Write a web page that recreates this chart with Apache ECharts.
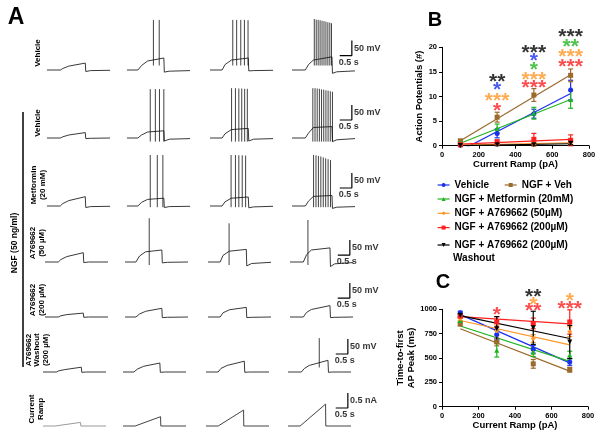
<!DOCTYPE html>
<html>
<head>
<meta charset="utf-8">
<script src="https://cdn.jsdelivr.net/npm/echarts@6/dist/echarts.min.js"></script>
<style>
  html, body { margin: 0; padding: 0; background: #fff; }
  #chart { width: 600px; height: 439px; }
</style>
</head>
<body>
<div id="chart"></div>
<script>
// ---------- Panel A: sweep key points (time in s, membrane potential in mV) ----------
// times of the key points for each column (current step size grows left to right)
const COL_TIMES = [
  [0, 0.55, 0.65, 0.9, 1.58, 1.6, 1.8, 2.6],
  [0, 0.45, 0.6, 0.85, 1.52, 1.54, 1.75, 2.6],
  [0, 0.5, 0.62, 0.88, 1.58, 1.6, 1.8, 2.6],
  [0, 0.55, 0.68, 0.88, 1.65, 1.67, 1.85, 2.6]
]

const vehicleV = [
  [-60, -60, -55, -47, -37, -65, -62, -61],
  [-60, -60, -45, -30, -20, -67, -64, -62],
  [-60, -60, -42, -27, -20, -63, -62, -61],
  [-60, -60, -42, -27, -16, -71, -66, -63]
]
const ngfVehV = [
  [-60, -60, -56, -50, -42, -62, -61, -60],
  [-60, -60, -50, -40, -36, -70, -64, -62],
  [-60, -60, -46, -32, -28, -70, -64, -62],
  [-60, -60, -44, -25, -22, -72, -66, -62]
]
const metforminV = [
  [-60, -60, -52, -42, -29, -65, -62, -61],
  [-60, -60, -48, -38, -34, -65, -62, -61],
  [-60, -60, -46, -34, -30, -66, -63, -61],
  [-60, -60, -44, -28, -25, -68, -64, -62]
]
const a50V = [
  [-60, -60, -52, -42, -29, -62, -60, -60],
  [-60, -60, -40, -26, -20, -63, -61, -60],
  [-60, -60, -38, -24, -18, -73, -65, -61],
  [-60, -60, -36, -20, -13, -75, -66, -62]
]
const a200V = [
  [-60, -60, -56, -52, -47, -61, -60, -60],
  [-60, -60, -50, -41, -31, -62, -61, -60],
  [-60, -60, -46, -36, -28, -62, -61, -60],
  [-60, -60, -45, -35, -22, -62, -61, -60]
]
const washoutV = [
  [-60, -60, -56, -52, -44, -61, -60, -60],
  [-60, -60, -50, -41, -30, -61, -60, -60],
  [-60, -60, -48, -38, -24, -61, -60, -60],
  [-60, -60, -48, -38, -21, -61, -60, -60]
]

// action potentials: [time s, peak mV]
const vehicleSpikes = [
  [],
  [[1.09, 107], [1.33, 107]],
  [[0.94, 107], [1.1, 107], [1.27, 107], [1.42, 107], [1.57, 106]],
  [[0.92, 110], [1.0, 108], [1.08, 107], [1.16, 106], [1.24, 104], [1.32, 103], [1.4, 101], [1.48, 99], [1.56, 98], [1.63, 96]]
]
const ngfVehSpikes = [
  [],
  [[0.96, 103], [1.17, 103], [1.34, 103], [1.52, 103]],
  [[0.89, 106], [1.05, 106], [1.19, 105], [1.31, 105], [1.43, 104], [1.54, 104]],
  [[0.86, 106], [0.95, 106], [1.04, 105], [1.13, 104], [1.22, 102], [1.31, 101], [1.4, 99], [1.49, 98], [1.58, 96], [1.67, 94]]
]
const metforminSpikes = [
  [],
  [[0.96, 110], [1.25, 110], [1.48, 110]],
  [[0.87, 110], [1.05, 110], [1.19, 109], [1.33, 109], [1.47, 108]],
  [[0.89, 110], [0.99, 109], [1.09, 107], [1.19, 105], [1.29, 102], [1.39, 99], [1.49, 96], [1.59, 93]]
]
const a50Spikes = [[], [[1.0, 86]], [[0.87, 69]], [[0.74, 80]]]
const a200Spikes = [[], [], [], []]
const washoutSpikes = [[], [], [], [[1.29, 53]]]

const SPIKE_TROUGH = [-45, -72, -64, -70, -60, -45]
const SCALE_BAR_LOW = [-12, 0, 0, -37, 3, 0]

// current ramp row (nA)
const RAMP_TIMES = [0, 0.5, 1.55, 1.56, 2.6]
const RAMP_AMP = [0.12, 0.31, 0.53, 0.73]
const RAMP_BAR_LOW = 0.6

const ROW_LABELS = ['Vehicle', 'Vehicle', 'Metformin\n(20 mM)', 'A769662\n(50 µM)', 'A769662\n(200 µM)', 'A769662\nWashout\n(200 µM)', 'Current\nRamp']

// ---------- Panels B and C ----------
const RAMP_PA = [100, 300, 500, 700]
const FIT_PA = [100, 700]
const GROUP_NAMES = ['Vehicle', 'NGF + Veh', 'NGF + Metformin (20mM)', 'NGF + A769662 (50µM)', 'NGF + A769662 (200µM)', 'NGF + A769662 (200µM) Washout']

const apMean = [
  [0.1, 2.5, 6.5, 11.3],
  [1.0, 5.8, 10.3, 14.3],
  [0.6, 3.5, 6.6, 9.4],
  [0.05, 0.3, 0.3, 0.6],
  [0.2, 0.7, 1.3, 1.1],
  [0.05, 0.2, 0.2, 0.5]
]
const apErr = [
  [0.1, 0.9, 0.9, 2.0],
  [0.2, 1.0, 1.3, 1.3],
  [0.2, 0.9, 1.2, 1.8],
  [0.05, 0.2, 0.3, 0.3],
  [0.2, 0.5, 1.2, 1.1],
  [0.05, 0.2, 0.2, 0.3]
]
const apFit = [[-1.0, 10.6], [1.0, 14.4], [0.5, 9.4], [0.1, 0.6], [0.3, 1.3], [0.0, 0.4]]
// [pA, height, stars, group]
const apSig = [
  [300, 14.0, '**', 5], [300, 12.3, '*', 0], [300, 10.1, '***', 3], [300, 8.1, '*', 4],
  [500, 19.9, '***', 5], [500, 18.2, '*', 0], [500, 16.4, '*', 2], [500, 14.4, '***', 3], [500, 12.7, '***', 4],
  [700, 23.1, '***', 5], [700, 21.1, '**', 2], [700, 19.0, '***', 3], [700, 17.0, '***', 4]
]

const ttfMean = [
  [965, 740, 590, 460],
  [850, 665, 440, 380],
  [885, 580, 560, 530],
  [905, 780, 700, 770],
  [930, 870, 855, 870],
  [940, 800, 810, 665]
]
const ttfErr = [
  [15, 45, 40, 35],
  [20, 40, 45, 25],
  [25, 70, 45, 40],
  [20, 50, 40, 50],
  [15, 55, 55, 125],
  [15, 125, 170, 170]
]
const ttfFit = [[945, 450], [800, 365], [828, 465], [885, 635], [925, 850], [935, 700]]
const ttfSig = [
  [300, 987, '*', 4],
  [500, 1172, '**', 5], [500, 1089, '*', 3], [500, 1028, '**', 4],
  [700, 1138, '*', 3], [700, 1052, '***', 4]
]

// ---------- layout / style ----------
const ROW_BASE_Y = [70, 138, 206, 262, 317, 372, 426]
const ROW_SHIFT = [0, 0, 0, -2, -2, -4, -4]
const COL_X = [47, 127, 210, 292]
const ROW_LABEL_Y = [53, 123, 185, 243, 300, 350, 409]
const ROW_LABEL_X = [38, 38, 38, 37, 37, 37, 36]
const V_MIN = -100
const V_MAX = 130
const PX_PER_MV = 0.3
const PX_PER_NA = 30
const T_END = 2.6
const TRACE_W = 63

const COLORS = ['#1c2ff0', '#9b6a2c', '#1fb51f', '#ff9626', '#ff1f1f', '#000000']
const SYMBOLS = ['circle', 'rect', 'triangle', 'diamond', 'rect', 'triangle']
const FONT = 'Liberation Sans, Arial, sans-serif'

const grid = []
const xAxis = []
const yAxis = []
const series = []
const graphic = []

function addGrid (box, x, y) {
  grid.push(box)
  const gi = grid.length - 1
  xAxis.push(Object.assign({ gridIndex: gi }, x))
  yAxis.push(Object.assign({ gridIndex: gi }, y))
  return gi
}

function traceLine (gi, data, color, width) {
  series.push({
    type: 'line', xAxisIndex: gi, yAxisIndex: gi, data,
    showSymbol: false, silent: true, connectNulls: false,
    lineStyle: { color, width }
  })
}

function scaleBar (gi, lowX, highX, low, high, yText, xText) {
  traceLine(gi, [[lowX, low], [highX, low], [highX, high]], '#000', 1.2)
  series.push({
    type: 'scatter', xAxisIndex: gi, yAxisIndex: gi, silent: true, clip: false,
    symbolSize: 0.1, itemStyle: { color: 'rgba(0,0,0,0)' },
    data: [
      { value: [highX, (low + high) / 2], label: { formatter: yText, position: 'right', distance: 2 } },
      { value: [(lowX + highX) / 2, low], label: { formatter: xText, position: 'bottom', distance: 2, offset: [3, 0] } }
    ],
    label: { show: true, fontFamily: FONT, fontWeight: 'bold', fontSize: 9, color: '#000' }
  })
}

const hiddenX = { type: 'value', min: 0, max: T_END, show: false }

const voltageRows = [vehicleV, ngfVehV, metforminV, a50V, a200V, washoutV]
const spikeRows = [vehicleSpikes, ngfVehSpikes, metforminSpikes, a50Spikes, a200Spikes, washoutSpikes]

voltageRows.forEach((row, r) => {
  row.forEach((vals, c) => {
    const gi = addGrid(
      {
        left: COL_X[c] + ROW_SHIFT[r],
        top: ROW_BASE_Y[r] - (V_MAX + 60) * PX_PER_MV,
        width: TRACE_W,
        height: (V_MAX - V_MIN) * PX_PER_MV
      },
      hiddenX,
      { type: 'value', min: V_MIN, max: V_MAX, show: false }
    )
    traceLine(gi, COL_TIMES[c].map((t, i) => [t, vals[i]]), '#222', 0.9)
    const spikeData = []
    spikeRows[r][c].forEach(([t, peak]) => {
      spikeData.push([t, SPIKE_TROUGH[r]], [t, peak], [t, '-'])
    })
    if (spikeData.length) traceLine(gi, spikeData, '#111', 0.8)
    if (c === 3) scaleBar(gi, 1.97, 2.47, SCALE_BAR_LOW[r], SCALE_BAR_LOW[r] + 50, '50 mV', '0.5 s')
  })
})

RAMP_AMP.forEach((amp, c) => {
  const gi = addGrid(
    {
      left: COL_X[c] + ROW_SHIFT[6],
      top: ROW_BASE_Y[6] - 1.2 * PX_PER_NA,
      width: TRACE_W,
      height: 1.5 * PX_PER_NA
    },
    hiddenX,
    { type: 'value', min: -0.3, max: 1.2, show: false }
  )
  const vals = [0, 0, amp, 0, 0]
  traceLine(gi, RAMP_TIMES.map((t, i) => [t, vals[i]]), c === 0 ? '#9a9a9a' : '#444', 1)
  if (c === 3) scaleBar(gi, 1.97, 2.47, RAMP_BAR_LOW, RAMP_BAR_LOW + 0.5, '0.5 nA', '0.5 s')
})

// ---------- panels B and C ----------
const tickLabel = { fontFamily: FONT, fontWeight: 'bold', fontSize: 7.5, color: '#000' }
const nameStyle = { fontFamily: FONT, fontWeight: 'bold', fontSize: 9.5, color: '#000' }
const axisLine = { show: true, lineStyle: { color: '#000', width: 1 } }
const axisTick = { show: true, length: 3, lineStyle: { color: '#000', width: 1 } }

function rampAxis () {
  return {
    type: 'value', min: 0, max: 800, interval: 200,
    axisLine, axisTick, splitLine: { show: false },
    axisLabel: Object.assign({ margin: 5, formatter: v => String(v) }, tickLabel),
    name: 'Current Ramp (pA)', nameLocation: 'middle', nameGap: 13, nameTextStyle: nameStyle
  }
}

function addPlot (gi, means, errs, fits, sigs) {
  // means (first, so the legend takes its icon from them)
  means.forEach((m, g) => {
    series.push({
      name: GROUP_NAMES[g], type: 'line', xAxisIndex: gi, yAxisIndex: gi,
      data: RAMP_PA.map((x, i) => [x, m[i]]), silent: true,
      symbol: SYMBOLS[g], symbolRotate: g === 5 ? 180 : 0, symbolSize: 5, showSymbol: true,
      lineStyle: { width: 0, color: COLORS[g] }, itemStyle: { color: COLORS[g] }, z: 4
    })
  })
  // fit lines
  fits.forEach((f, g) => {
    series.push({
      name: GROUP_NAMES[g], type: 'line', xAxisIndex: gi, yAxisIndex: gi,
      data: FIT_PA.map((x, i) => [x, f[i]]), showSymbol: false, symbol: 'none', silent: true, clip: true,
      lineStyle: { color: COLORS[g], width: 1.2 }, itemStyle: { color: COLORS[g] }, z: 2
    })
  })
  // error bars
  means.forEach((m, g) => {
    series.push({
      name: GROUP_NAMES[g], type: 'custom', xAxisIndex: gi, yAxisIndex: gi, silent: true,
      data: RAMP_PA.map((x, i) => [x, m[i] - errs[g][i], m[i] + errs[g][i]]),
      itemStyle: { color: COLORS[g] }, z: 3,
      renderItem: (params, api) => {
        const lo = api.coord([api.value(0), api.value(1)])
        const hi = api.coord([api.value(0), api.value(2)])
        const w = 2.5
        const st = { stroke: COLORS[g], lineWidth: 1.2 }
        return {
          type: 'group',
          children: [
            { type: 'line', shape: { x1: lo[0], y1: lo[1], x2: hi[0], y2: hi[1] }, style: st },
            { type: 'line', shape: { x1: hi[0] - w, y1: hi[1], x2: hi[0] + w, y2: hi[1] }, style: st },
            { type: 'line', shape: { x1: lo[0] - w, y1: lo[1], x2: lo[0] + w, y2: lo[1] }, style: st }
          ]
        }
      }
    })
  })
  // significance stars
  series.push({
    type: 'scatter', xAxisIndex: gi, yAxisIndex: gi, silent: true, clip: false,
    symbolSize: 0.1, itemStyle: { color: 'rgba(0,0,0,0)' }, z: 5,
    data: sigs.map(([x, y, s, g]) => ({
      value: [x, y],
      label: { formatter: s, color: COLORS[g] }
    })),
    label: { show: true, position: 'inside', offset: [0, 5], fontFamily: FONT, fontWeight: 'bold', fontSize: 21 }
  })
}

const giB = addGrid(
  { left: 442, top: 47.3, width: 147, height: 98.4 },
  rampAxis(),
  {
    type: 'value', min: 0, max: 20, interval: 5,
    axisLine, axisTick, splitLine: { show: false },
    axisLabel: Object.assign({ margin: 5 }, tickLabel),
    name: 'Action Potentials (#)', nameLocation: 'middle', nameGap: 17, nameTextStyle: nameStyle
  }
)
addPlot(giB, apMean, apErr, apFit, apSig)

const giC = addGrid(
  { left: 442, top: 309.3, width: 146, height: 97.4 },
  rampAxis(),
  {
    type: 'value', min: 0, max: 1000, interval: 250,
    axisLine, axisTick, splitLine: { show: false },
    axisLabel: Object.assign({ margin: 5, formatter: v => String(v) }, tickLabel),
    name: 'Time-to-first\nAP Peak (ms)', nameLocation: 'middle', nameGap: 21,
    nameTextStyle: Object.assign({ lineHeight: 11 }, nameStyle)
  }
)
addPlot(giC, ttfMean, ttfErr, ttfFit, ttfSig)

// ---------- labels ----------
const txt = (text, x, y, size, extra) => graphic.push(Object.assign({
  type: 'text', x, y, silent: true,
  style: Object.assign({ text, fontFamily: FONT, fontWeight: 'bold', fontSize: size, fill: '#000', align: 'center', verticalAlign: 'middle' }, (extra && extra.style) || {})
}, extra && extra.rotation ? { rotation: extra.rotation } : {}))

txt('A', 16, 18, 23)
txt('B', 435, 20, 20)
txt('C', 443, 282, 20)
ROW_LABELS.forEach((label, r) => {
  txt(label, ROW_LABEL_X[r], ROW_LABEL_Y[r], 8, { rotation: Math.PI / 2, style: { lineHeight: 8.6 } })
})
txt('NGF (50 ng/ml)', 15, 243, 8.5, { rotation: Math.PI / 2 })
graphic.push({ type: 'line', silent: true, shape: { x1: 23, y1: 112, x2: 23, y2: 367 }, style: { stroke: '#000', lineWidth: 1.5 } })
txt('Washout', 453, 258, 10, { style: { align: 'left' } })

const legendText = { fontFamily: FONT, fontWeight: 'bold', fontSize: 10, color: '#000' }
const legendBase = {
  itemWidth: 12, itemHeight: 5, textStyle: legendText, selectedMode: false,
  lineStyle: { width: 1.2, opacity: 1 }, itemStyle: { borderWidth: 0 }, padding: 0
}

const chart = echarts.init(document.getElementById('chart'))
chart.setOption({
  animation: false,
  backgroundColor: '#fff',
  grid, xAxis, yAxis, series, graphic,
  legend: [
    Object.assign({ left: 437, top: 180, orient: 'horizontal', itemGap: 15, data: GROUP_NAMES.slice(0, 2) }, legendBase),
    Object.assign({ left: 437, top: 194, orient: 'vertical', itemGap: 4.3, data: GROUP_NAMES.slice(2, 5) }, legendBase),
    Object.assign({ left: 437, top: 240, orient: 'vertical', data: GROUP_NAMES.slice(5), formatter: () => 'NGF + A769662 (200µM)' }, legendBase)
  ]
})
</script>
</body>
</html>
